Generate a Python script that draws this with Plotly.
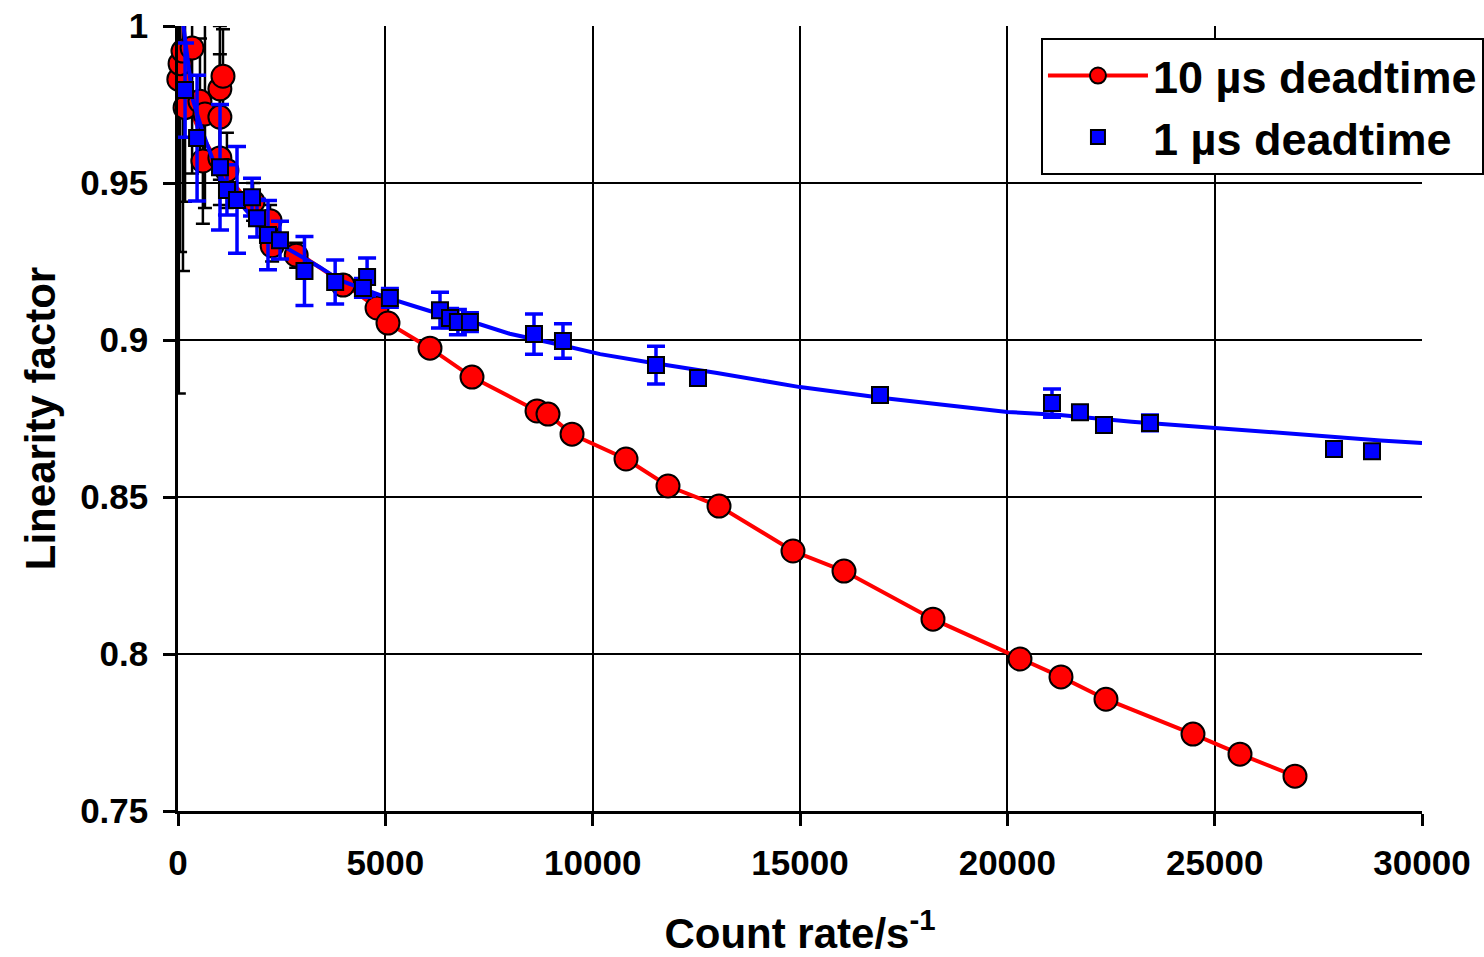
import plotly.graph_objects as go

# ---- data: 10 us deadtime (red circles, black error bars) ----
red_x = [20, 50, 120, 170, 340, 530, 650, 600, 1010, 1085, 1010, 1010, 1180, 1810, 2220, 2270,
         2850, 3980, 4800, 5064, 6077, 7090, 8658, 8923, 9502, 10804, 11817, 13047, 14831,
         16061, 18207, 20305, 21294, 22379, 24477, 25611, 26937]
red_y = [0.983, 0.988, 0.992, 0.974, 0.993, 0.976, 0.972, 0.957, 0.980, 0.984, 0.971, 0.958, 0.954,
         0.944, 0.938, 0.930, 0.927, 0.9175, 0.9102, 0.9054, 0.8974, 0.8882, 0.8774, 0.8764,
         0.8700, 0.8621, 0.8535, 0.8471, 0.8328, 0.8264, 0.8111, 0.7984, 0.7927, 0.7856,
         0.7745, 0.7681, 0.7611]
red_err = [0.10, 0.06, 0.07, 0.03, 0.04, 0.02, 0.03, 0.02, 0.02, 0.015, 0.02, 0.015, 0.012,
           0.006, 0.005, 0.005, 0.004, 0.003, 0.002, 0.002, 0.002, 0.002, 0.002, 0.002,
           0.002, 0.002, 0.002, 0.002, 0.002, 0.002, 0.002, 0.002, 0.002, 0.002, 0.002, 0.002, 0.002]

# red fitted / connecting line
red_line_x = [10, 40, 100, 250, 500, 800, 1200, 1700, 2200, 2700, 3200, 4000, 4800, 5064, 6077,
              7090, 8658, 8923, 9502, 10804, 11817, 13047, 14831, 16061, 18207, 20305, 21294,
              22379, 24477, 25611, 26937]
red_line_y = [1.02, 0.995, 0.985, 0.975, 0.967, 0.960, 0.952, 0.944, 0.937, 0.930, 0.925, 0.918,
              0.9102, 0.9054, 0.8974, 0.8882, 0.8774, 0.8764, 0.8700, 0.8621, 0.8535, 0.8471,
              0.8328, 0.8264, 0.8111, 0.7984, 0.7927, 0.7856, 0.7745, 0.7681, 0.7611]

# ---- data: 1 us deadtime (blue squares, blue error bars) ----
blue_x = [170, 460, 1013, 1181, 1423, 1785, 1905, 2170, 2460, 3050, 3790, 4560, 4460, 5110,
          6318, 6560, 6750, 7040, 8585, 9284, 11527, 12540, 16929, 21077, 21752, 22331,
          23440, 27878, 28794]
blue_y = [0.9796, 0.9643, 0.955, 0.9478, 0.9446, 0.9455, 0.9388, 0.9334, 0.9318, 0.9220,
          0.9185, 0.9201, 0.9166, 0.9134, 0.9095, 0.9070, 0.9057, 0.9057, 0.9019, 0.8997,
          0.8920, 0.8879, 0.8825, 0.8799, 0.8770, 0.8729, 0.8736, 0.8653, 0.8646]
blue_err = [0.015, 0.02, 0.02, 0.008, 0.017, 0.006, 0.006, 0.011, 0.006, 0.011, 0.007, 0.006,
            0.003, 0.003, 0.0057, 0.003, 0.004, 0.003, 0.0064, 0.0055, 0.006, 0.0022, 0.0015,
            0.0045, 0.002, 0.002, 0.0025, 0.002, 0.0015]

# blue fitted curve
blue_fit_x = [120, 360, 600, 850, 1180, 1570, 1980, 2390, 3420, 3910, 5040, 5760, 6500, 7280,
              8000, 9210, 10180, 11310, 13000, 15000, 17000, 20000, 21270, 23000, 25850,
              27000, 28000, 29000, 30000]
blue_fit_y = [1.001, 0.9764, 0.966, 0.957, 0.9487, 0.9424, 0.936, 0.931, 0.9232, 0.919, 0.9135,
              0.9105, 0.9075, 0.9050, 0.9020, 0.8985, 0.8955, 0.8930, 0.8895, 0.8850, 0.8815,
              0.8771, 0.8761, 0.8740, 0.8710, 0.8700, 0.8690, 0.8680, 0.8672]

x_ticks = [0, 5000, 10000, 15000, 20000, 25000, 30000]
y_ticks = [0.75, 0.8, 0.85, 0.9, 0.95, 1.0]
y_ticktext = ["0.75", "0.8", "0.85", "0.9", "0.95", "1"]

FONT = "Liberation Sans, Arial, sans-serif"
RED = "#FF0000"
BLUE = "#0000FF"

fig = go.Figure()

fig.add_trace(go.Scatter(x=red_line_x, y=red_line_y, mode="lines",
                         line=dict(color=RED, width=4), showlegend=False, cliponaxis=False,
                         hoverinfo="skip"))
fig.add_trace(go.Scatter(x=red_x, y=red_y, mode="markers", showlegend=False, cliponaxis=False,
                         marker=dict(symbol="circle", size=23, color=RED,
                                     line=dict(color="black", width=2)),
                         error_y=dict(type="data", array=red_err, visible=True,
                                      color="black", thickness=2.5, width=7)))
fig.add_trace(go.Scatter(x=blue_fit_x, y=blue_fit_y, mode="lines",
                         line=dict(color=BLUE, width=4), showlegend=False, cliponaxis=False,
                         hoverinfo="skip"))
fig.add_trace(go.Scatter(x=blue_x, y=blue_y, mode="markers", showlegend=False, cliponaxis=False,
                         marker=dict(symbol="square", size=16, color=BLUE,
                                     line=dict(color="black", width=2)),
                         error_y=dict(type="data", array=blue_err, visible=True,
                                      color=BLUE, thickness=3.5, width=9)))
# legend entries
fig.add_trace(go.Scatter(x=[None], y=[None], mode="lines+markers", name="10 µs deadtime",
                         legendgroup="a",
                         line=dict(color=RED, width=4),
                         marker=dict(symbol="circle", size=20, color=RED,
                                     line=dict(color="black", width=2))))
fig.add_trace(go.Scatter(x=[None], y=[None], mode="markers", name="1 µs deadtime",
                         legendgroup="b",
                         marker=dict(symbol="square", size=14, color=BLUE,
                                     line=dict(color="black", width=2))))

axis_common = dict(
    showgrid=True, gridcolor="black", gridwidth=2,
    showline=True, linecolor="black", linewidth=2.5,
    ticks="outside", ticklen=12, tickwidth=2.5, tickcolor="black",
    zeroline=False,
    tickfont=dict(family=FONT, size=35, color="black", weight="bold"),
)

fig.update_layout(
    width=1484, height=957,
    margin=dict(l=178, r=62, t=26, b=146, autoexpand=False),
    paper_bgcolor="white", plot_bgcolor="white",
    font=dict(family=FONT, color="black"),
    xaxis=dict(range=[0, 30000], tickvals=x_ticks, ticktext=[str(v) for v in x_ticks],
               title=dict(text="Count rate/s<sup>-1</sup>",
                          font=dict(family=FONT, size=42, color="black", weight="bold"),
                          standoff=66),
               ticklabelstandoff=7,
               automargin=False, **axis_common),
    yaxis=dict(range=[0.75, 1.0], tickvals=y_ticks, ticktext=y_ticktext,
               title=dict(text="Linearity factor",
                          font=dict(family=FONT, size=42, color="black", weight="bold"),
                          standoff=12),
               ticklabelstandoff=8,
               automargin=False, **axis_common),
    legend=dict(x=0.6937, y=0.985, xanchor="left", yanchor="top",
                bgcolor="white", bordercolor="black", borderwidth=2,
                font=dict(family=FONT, size=45, color="black", weight="bold"),
                itemwidth=100, tracegroupgap=0),
    showlegend=True,
)

fig.write_html("out.html")
